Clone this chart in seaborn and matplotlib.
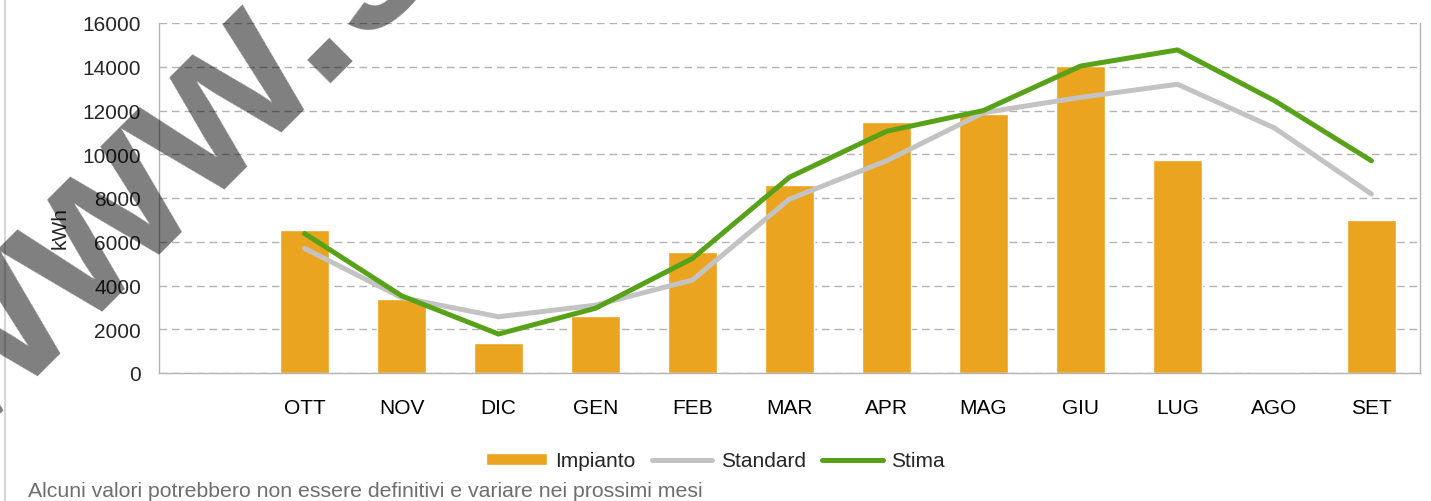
import matplotlib
matplotlib.use("Agg")
import matplotlib.pyplot as plt
from matplotlib.lines import Line2D
from matplotlib.patches import Patch
import seaborn as sns
import numpy as np

# data (first category is empty)
months = ["", "OTT", "NOV", "DIC", "GEN", "FEB", "MAR", "APR", "MAG", "GIU", "LUG", "AGO", "SET"]
impianto = [np.nan, 6550, 3380, 1380, 2600, 5540, 8600, 11460, 11850, 14030, 9750, 40, 7000]
standard = [np.nan, 5700, 3450, 2570, 3100, 4250, 7950, 9700, 11900, 12600, 13200, 11200, 8180]
stima = [np.nan, 6380, 3530, 1780, 2960, 5240, 8950, 11050, 12000, 14030, 14770, 12450, 9700]
yticks = [0, 2000, 4000, 6000, 8000, 10000, 12000, 14000, 16000]

col_imp = "#EAA41F"
col_std = "#C3C3C3"
col_sti = "#58A21A"
axis_col = "#B3B3B3"

sns.set_style("white")
plt.rcParams["font.family"] = ["Liberation Sans", "DejaVu Sans"]

W, H = 1431, 502
fig = plt.figure(figsize=(W / 100, H / 100), dpi=100)
ax = fig.add_axes([159 / W, 1 - 374 / H, (1420 - 159) / W, 350 / H])

sns.barplot(x=months, y=impianto, order=months, color=col_imp, width=0.5,
            saturation=1, errorbar=None, ax=ax, zorder=2)
sns.pointplot(x=months, y=standard, order=months, color=col_std, marker="",
              errorbar=None, ax=ax, lw=3.6, zorder=3)
sns.pointplot(x=months, y=stima, order=months, color=col_sti, marker="",
              errorbar=None, ax=ax, lw=3.6, zorder=4)

ax.set_xlim(-0.5, len(months) - 0.5)
ax.set_ylim(0, 16000)
ax.set_yticks(yticks)
ax.set_yticklabels([str(v) for v in yticks])
ax.set_xticks(range(len(months)))
ax.set_xticklabels(months)
ax.set_xticks(np.arange(-0.5, len(months)), minor=True)
ax.tick_params(axis="x", which="major", length=0, pad=18, labelsize=15, colors="black")
ax.tick_params(axis="x", which="minor", length=8, width=1, color=axis_col)
ax.tick_params(axis="y", length=8.6, width=1, color=axis_col, labelsize=15, pad=4.3)
ax.set_xlabel("")
ax.set_ylabel("kWh", fontsize=15)
ax.yaxis.set_label_coords((70 - 159) / 1261, (374 - 228) / 350)
ax.yaxis.grid(True, linestyle=(0, (5.5, 3.5)), color=axis_col, lw=1)
ax.set_axisbelow(True)
ax.spines["top"].set_visible(False)
for s in ["left", "bottom", "right"]:
    ax.spines[s].set_color(axis_col)
    ax.spines[s].set_linewidth(1)

handles = [Patch(facecolor=col_imp, label="Impianto"),
           Line2D([], [], color=col_std, lw=3.6, label="Standard"),
           Line2D([], [], color=col_sti, lw=3.6, label="Stima")]
fig.legend(handles=handles, loc="center", bbox_to_anchor=(0.5, 1 - 462 / H), ncol=3,
           frameon=False, fontsize=15, handlelength=2.9, handleheight=0.55,
           columnspacing=0.8, handletextpad=0.4, borderaxespad=0, borderpad=0)

fig.text(28 / W, 1 - 497 / H, "Alcuni valori potrebbero non essere definitivi e variare nei prossimi mesi",
         fontsize=15.3, color="#6E6E6E", ha="left", va="baseline")

# left border line
fig.add_artist(Line2D([5 / W, 5 / W], [0, 1], color="#D6D6D6", lw=1.5))

# watermark
fig.text(-40 / W, 1 - 455 / H, "www.s", fontsize=160, fontweight="bold",
         color="black", alpha=0.5, rotation=45, rotation_mode="anchor",
         ha="left", va="baseline", zorder=10)

fig.savefig("out.png", dpi=100)
